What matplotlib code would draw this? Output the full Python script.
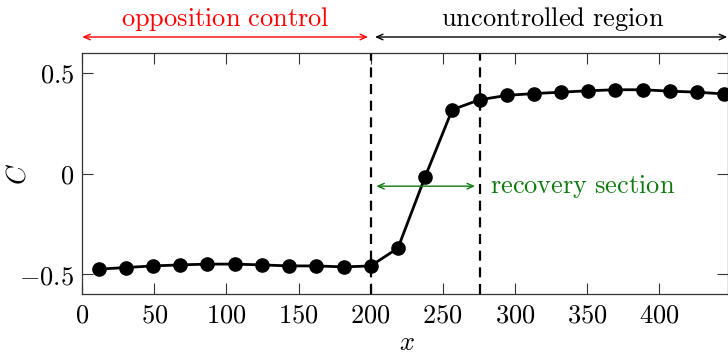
import matplotlib
matplotlib.use("Agg")
import matplotlib.pyplot as plt
from matplotlib.ticker import FuncFormatter

plt.rcParams["mathtext.fontset"] = "cm"
plt.rcParams["font.family"] = ["DejaVu Serif"]

# streamwise stations and the measured coefficient
x_pos = [11.3, 30.2, 49.1, 67.9, 86.8, 105.6, 124.5, 143.4, 162.3, 181.2, 200.0,
         218.9, 237.8, 256.6, 275.5, 294.4, 313.2, 332.1, 351.0, 369.8, 388.7,
         407.6, 426.4, 445.3]
c_val = [-0.475, -0.467, -0.459, -0.454, -0.450, -0.450, -0.454, -0.459, -0.459,
         -0.464, -0.459, -0.371, -0.016, 0.317, 0.366, 0.388, 0.397, 0.404, 0.411,
         0.416, 0.416, 0.409, 0.404, 0.395]

control_end = 200.0
recovery_end = 275.5
x_ticks = [0, 50, 100, 150, 200, 250, 300, 350, 400]
y_ticks = [-0.5, 0, 0.5]

fs = 19
fig = plt.figure(figsize=(7.28, 3.54), dpi=100)
ax = fig.add_axes([82.3 / 728, 1 - 294.3 / 354, (727.5 - 82.3) / 728, 241.6 / 354])

ax.plot(x_pos, c_val, color="black", lw=2.0, marker="o", ms=9.5, zorder=3)
for xv in (control_end, recovery_end):
    ax.axvline(xv, color="black", lw=1.6, ls=(0, (4.5, 3)), zorder=2)

ax.set_xlim(0, 447.5)
ax.set_ylim(-0.6, 0.6)
ax.set_xticks(x_ticks)
ax.set_yticks(y_ticks)
ax.xaxis.set_major_formatter(FuncFormatter(lambda v, p: r"$%d$" % v))
ax.yaxis.set_major_formatter(FuncFormatter(lambda v, p: r"$%g$" % v))
ax.tick_params(direction="in", length=8, width=0.8, top=True, right=True,
               labelsize=fs, color="#333333", pad=6)
for s in ax.spines.values():
    s.set_linewidth(0.9)
    s.set_color("#333333")

ax.set_xlabel(r"$x$", fontsize=fs, va="center", ha="center")
ax.set_ylabel(r"$C$", fontsize=fs, va="center", ha="center")
ax.xaxis.set_label_coords(0.5035, -0.198)
ax.yaxis.set_label_coords(-0.1004, 0.5)

tr = ax.get_xaxis_transform()
arrow_y = 1.065
text_y = 1.1105
ax.annotate("", xy=(0, arrow_y), xytext=(198.2, arrow_y), xycoords=tr, textcoords=tr,
            arrowprops=dict(arrowstyle="<->,head_length=0.45,head_width=0.2",
                            color="red", lw=1.0, shrinkA=0, shrinkB=0))
ax.annotate("", xy=(203.0, arrow_y), xytext=(447.3, arrow_y), xycoords=tr, textcoords=tr,
            arrowprops=dict(arrowstyle="<->,head_length=0.45,head_width=0.2",
                            color="black", lw=1.0, shrinkA=0, shrinkB=0),
            annotation_clip=False)
ax.text(99.5, text_y, r"$\mathrm{opposition\ control}$", transform=tr, color="red",
        fontsize=fs, ha="center", va="baseline")
ax.text(326, text_y, r"$\mathrm{uncontrolled\ region}$", transform=tr, color="black",
        fontsize=fs, ha="center", va="baseline")

green = "#107a10"
ax.annotate("", xy=(203.9, -0.063), xytext=(272.4, -0.063),
            arrowprops=dict(arrowstyle="<->,head_length=0.45,head_width=0.2",
                            color=green, lw=1.0, shrinkA=0, shrinkB=0))
ax.text(282.9, -0.0955, r"$\mathrm{recovery\ section}$", color=green,
        fontsize=fs, ha="left", va="baseline")

fig.savefig("out.png", dpi=100)
